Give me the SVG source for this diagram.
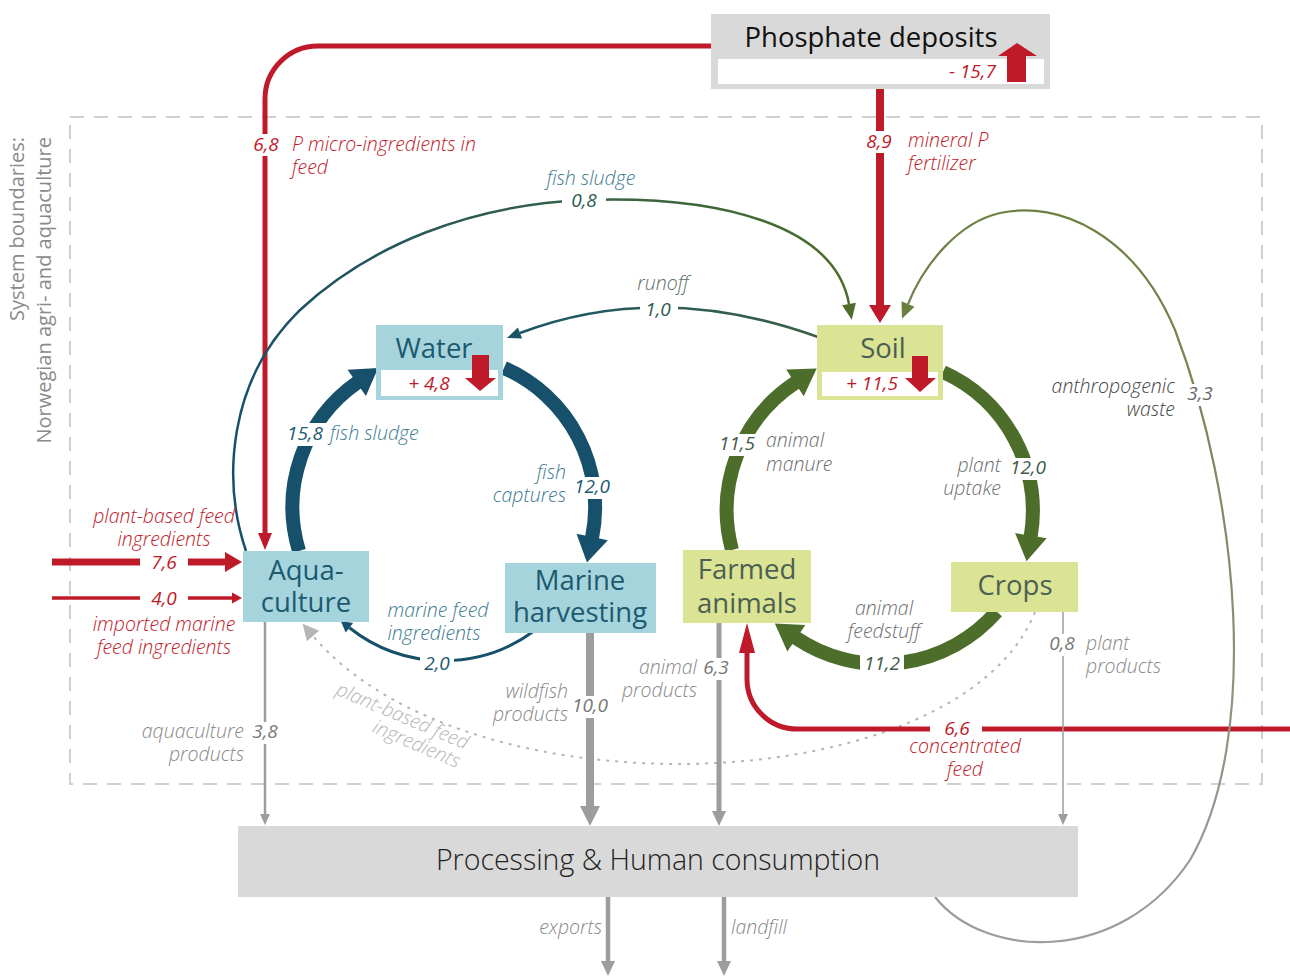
<svg xmlns="http://www.w3.org/2000/svg" width="1290" height="976" viewBox="0 0 1290 976">
<style>
.node{font-family:"Open Sans","Liberation Sans",sans-serif;font-size:27.5px;text-anchor:middle}
.lbl{font-family:"Open Sans","Liberation Sans",sans-serif;font-style:italic;font-weight:300;font-size:19.5px}
.num{font-family:"Open Sans","Liberation Sans",sans-serif;font-style:italic;font-weight:400;font-size:19px}
.inner{font-family:"Open Sans","Liberation Sans",sans-serif;font-style:italic;font-weight:400;font-size:19px}
.mid{text-anchor:middle}
.end{text-anchor:end}
.gap{fill:#fff}
.red{fill:#be1a2a}
.bl{fill:#3d7a8f}
.bln{fill:#1c5a70}
.gr{fill:#6e6e6e}
.grn{fill:#3f5a48}
.dk{fill:#444}
.lg{fill:#888}
.line{fill:none}
.bnd{font-family:"Open Sans","Liberation Sans",sans-serif;font-size:20px;text-anchor:end;fill:#8a8a8a}
</style>
<defs>
<marker id="mRed68" markerUnits="userSpaceOnUse" orient="auto" refX="0" refY="0" overflow="visible"><path d="M0,-7 L17,0 L0,7 Z" fill="#be1a2a"/></marker>
<marker id="mRed89" markerUnits="userSpaceOnUse" orient="auto" refX="0" refY="0" overflow="visible"><path d="M0,-11 L18,0 L0,11 Z" fill="#be1a2a"/></marker>
<marker id="mRed76" markerUnits="userSpaceOnUse" orient="auto" refX="0" refY="0" overflow="visible"><path d="M0,-10 L17,0 L0,10 Z" fill="#be1a2a"/></marker>
<marker id="mRed40" markerUnits="userSpaceOnUse" orient="auto" refX="0" refY="0" overflow="visible"><path d="M0,-5.5 L10,0 L0,5.5 Z" fill="#be1a2a"/></marker>
<marker id="mRedCF" markerUnits="userSpaceOnUse" orient="auto" refX="0" refY="0" overflow="visible"><path d="M0,-8 L30,0 L0,8 Z" fill="#be1a2a"/></marker>
<marker id="mBlueBig" markerUnits="userSpaceOnUse" orient="auto" refX="0" refY="0" overflow="visible"><path d="M-1,-16 L25,0 L-1,16 Z" fill="#17506a"/></marker>
<marker id="mGreenBig" markerUnits="userSpaceOnUse" orient="auto" refX="0" refY="0" overflow="visible"><path d="M-1,-16 L25,0 L-1,16 Z" fill="#4d6e2a"/></marker>
<marker id="mBlueSm" markerUnits="userSpaceOnUse" orient="auto" refX="0" refY="0" overflow="visible"><path d="M0,-6 L11,0 L0,6 Z" fill="#17506a"/></marker>
<marker id="mRunoff" markerUnits="userSpaceOnUse" orient="auto" refX="0" refY="0" overflow="visible"><path d="M0,-6 L14,0 L0,6 Z" fill="#1a5568"/></marker>
<marker id="mGreenSm" markerUnits="userSpaceOnUse" orient="auto" refX="0" refY="0" overflow="visible"><path d="M0,-7 L16,0 L0,7 Z" fill="#4d6e2a"/></marker>
<marker id="mOlive" markerUnits="userSpaceOnUse" orient="auto" refX="0" refY="0" overflow="visible"><path d="M0,-7 L16,0 L0,7 Z" fill="#6b8040"/></marker>
<marker id="mGray" markerUnits="userSpaceOnUse" orient="auto" refX="0" refY="0" overflow="visible"><path d="M0,-5 L11,0 L0,5 Z" fill="#9d9d9d"/></marker>
<marker id="mGrayMid" markerUnits="userSpaceOnUse" orient="auto" refX="0" refY="0" overflow="visible"><path d="M0,-7 L15,0 L0,7 Z" fill="#9d9d9d"/></marker>
<marker id="mGrayBig" markerUnits="userSpaceOnUse" orient="auto" refX="0" refY="0" overflow="visible"><path d="M0,-10 L20,0 L0,10 Z" fill="#9d9d9d"/></marker>
<marker id="mDot" markerUnits="userSpaceOnUse" orient="auto" refX="0" refY="0" overflow="visible"><path d="M0,-8 L16,0 L0,8 Z" fill="#b5b5b5"/></marker>
<linearGradient id="gSludge" gradientUnits="userSpaceOnUse" x1="240" y1="0" x2="850" y2="0"><stop offset="0" stop-color="#17506a"/><stop offset="1" stop-color="#4d6e2a"/></linearGradient>
<linearGradient id="gRunoff" gradientUnits="userSpaceOnUse" x1="506" y1="0" x2="818" y2="0"><stop offset="0" stop-color="#1a5568"/><stop offset="1" stop-color="#3b6146"/></linearGradient>
<linearGradient id="gWaste" gradientUnits="userSpaceOnUse" x1="0" y1="945" x2="0" y2="210"><stop offset="0" stop-color="#9d9d9d"/><stop offset="1" stop-color="#6b8040"/></linearGradient>
</defs>
<rect width="1290" height="976" fill="#fff"/>

<g id="boundary">
<rect x="70" y="117" width="1192" height="667" fill="none" stroke="#d0d0d0" stroke-width="2" stroke-dasharray="14 10"/>
<text transform="translate(24,137) rotate(-90)" class="bnd">System boundaries:</text>
<text transform="translate(51,137) rotate(-90)" class="bnd">Norwegian agri- and aquaculture</text>
</g>

<g id="connectors">
<path class="line" d="M1035 612 C960 800 470 820 313 636" stroke="#b5b5b5" stroke-width="2" stroke-dasharray="3 6" marker-end="url(#mDot)"/>
<path class="line" d="M711 46 L318 46 A53 53 0 0 0 265 99 L265 533" stroke="#be1a2a" stroke-width="5" marker-end="url(#mRed68)"/>
<path class="line" d="M880 89 L880 305" stroke="#be1a2a" stroke-width="8" marker-end="url(#mRed89)"/>
<path class="line" d="M52 562 L225 562" stroke="#be1a2a" stroke-width="7" marker-end="url(#mRed76)"/>
<path class="line" d="M52 598 L232 598" stroke="#be1a2a" stroke-width="3.5" marker-end="url(#mRed40)"/>
<path class="line" d="M1290 729 L797 729 A50 50 0 0 1 747 679 L747 653" stroke="#be1a2a" stroke-width="5" marker-end="url(#mRedCF)"/>
<path class="line" d="M246 551 C222 480 228 380 300 310 C370 245 470 205 584 200 C720 195 835 225 849 304" stroke="url(#gSludge)" stroke-width="2.5" marker-end="url(#mGreenSm)"/>
<path class="line" d="M818 337 Q660 280 520 333" stroke="url(#gRunoff)" stroke-width="2.5" marker-end="url(#mRunoff)"/>
<path class="line" d="M935 897 C985 960 1120 965 1190 860 C1260 740 1240 500 1175 330 C1135 235 1060 200 1000 213 C960 222 925 262 908 304" stroke="url(#gWaste)" stroke-width="2.2" marker-end="url(#mOlive)"/>
<path class="line" d="M299 551 A152 152 0 0 1 357.6 382.3" stroke="#17506a" stroke-width="14" marker-end="url(#mBlueBig)"/>
<path class="line" d="M504 368 A152 152 0 0 1 592 538" stroke="#17506a" stroke-width="14" marker-end="url(#mBlueBig)"/>
<path class="line" d="M534 631 A152 152 0 0 1 349.4 627.8" stroke="#17506a" stroke-width="3" marker-end="url(#mBlueSm)"/>
<path class="line" d="M732 550 A153 153 0 0 1 795.8 382.3" stroke="#4d6e2a" stroke-width="14" marker-end="url(#mGreenBig)"/>
<path class="line" d="M943 372 A153 153 0 0 1 1030.7 536.6" stroke="#4d6e2a" stroke-width="14" marker-end="url(#mGreenBig)"/>
<path class="line" d="M996.7 611.7 A153 153 0 0 1 795.5 637.6" stroke="#4d6e2a" stroke-width="14" marker-end="url(#mGreenBig)"/>
<path class="line" d="M265 622 L265 814" stroke="#9d9d9d" stroke-width="2.5" marker-end="url(#mGray)"/>
<path class="line" d="M590 633 L590 806" stroke="#9d9d9d" stroke-width="8" marker-end="url(#mGrayBig)"/>
<path class="line" d="M719 623 L719 811" stroke="#9d9d9d" stroke-width="5" marker-end="url(#mGrayMid)"/>
<path class="line" d="M1063 612 L1063 814" stroke="#9d9d9d" stroke-width="1.5" marker-end="url(#mGray)"/>
<path class="line" d="M608 897 L608 961" stroke="#9d9d9d" stroke-width="4.5" marker-end="url(#mGrayMid)"/>
<path class="line" d="M724 897 L724 961" stroke="#9d9d9d" stroke-width="4.5" marker-end="url(#mGrayMid)"/>
</g>

<g id="phosphate">
<rect x="711" y="14" width="339" height="75" fill="#d9d9d9"/>
<rect x="718" y="59" width="326" height="25" fill="#fff"/>
<text x="871" y="47" class="node" fill="#111">Phosphate deposits</text>
<text x="996" y="78" class="inner end red">- 15,7</text>
<polygon points="1007,82 1026,82 1026,56 1037,56 1017,43 998,56 1007,56" fill="#be1a2a"/>
</g>

<g id="water">
<rect x="376" y="325" width="127" height="75" fill="#a6d4dd"/>
<rect x="381" y="370" width="117" height="26" fill="#fff"/>
<text x="434" y="358" class="node" fill="#1c5a70">Water</text>
<text x="429" y="390" class="inner mid red">+ 4,8</text>
<polygon points="472,355 489,355 489,378 496,378 480,391 465,378 472,378" fill="#be1a2a"/>
</g>

<g id="soil">
<rect x="817" y="325" width="126" height="75" fill="#dbe394"/>
<rect x="822" y="372" width="116" height="24" fill="#fff"/>
<text x="883" y="358" class="node" fill="#4b5f52">Soil</text>
<text x="872" y="390" class="inner mid red">+ 11,5</text>
<polygon points="912,356 928,356 928,378 936,378 920,392 905,378 912,378" fill="#be1a2a"/>
</g>

<g id="aquaculture">
<rect x="243" y="551" width="126" height="71" fill="#a6d4dd"/>
<text x="306" y="580" class="node" fill="#1c5a70">Aqua-</text>
<text x="306" y="612" class="node" fill="#1c5a70">culture</text>
</g>

<g id="marine">
<rect x="505" y="563" width="151" height="70" fill="#a6d4dd"/>
<text x="580" y="590" class="node" fill="#1c5a70">Marine</text>
<text x="580" y="622" class="node" fill="#1c5a70">harvesting</text>
</g>

<g id="farmed">
<rect x="683" y="550" width="128" height="73" fill="#dbe394"/>
<text x="747" y="579" class="node" fill="#4b5f52">Farmed</text>
<text x="747" y="613" class="node" fill="#4b5f52">animals</text>
</g>

<g id="crops">
<rect x="951" y="562" width="127" height="50" fill="#dbe394"/>
<text x="1015" y="595" class="node" fill="#4b5f52">Crops</text>
</g>

<g id="processing">
<rect x="238" y="826" width="840" height="71" fill="#d9d9d9"/>
<text x="658" y="870" class="node" fill="#222" style="font-size:28.5px;font-weight:300">Processing &amp; Human consumption</text>
</g>

<g id="labels">
<rect class="gap" x="250" y="134" width="32" height="22"/>
<rect class="gap" x="864" y="131" width="30" height="22"/>
<rect class="gap" x="140" y="552" width="48" height="20"/>
<rect class="gap" x="140" y="590" width="48" height="18"/>
<rect class="gap" x="930" y="719" width="52" height="20"/>
<rect class="gap" x="562" y="192" width="44" height="18"/>
<rect class="gap" x="640" y="300" width="38" height="18"/>
<rect class="gap" x="285" y="423" width="42" height="23"/>
<rect class="gap" x="572" y="477" width="42" height="22"/>
<rect class="gap" x="420" y="655" width="34" height="20"/>
<rect class="gap" x="716" y="434" width="42" height="22"/>
<rect class="gap" x="1008" y="458" width="42" height="22"/>
<rect class="gap" x="860" y="652" width="44" height="23"/>
<rect class="gap" x="1186" y="384" width="28" height="22"/>
<rect class="gap" x="252" y="722" width="26" height="22"/>
<rect class="gap" x="570" y="696" width="40" height="22"/>
<rect class="gap" x="703" y="658" width="27" height="22"/>
<rect class="gap" x="1049" y="634" width="26" height="22"/>

<text x="266" y="151" class="num mid red">6,8</text>
<text x="292" y="151" class="lbl red">P micro-ingredients in</text>
<text x="292" y="174" class="lbl red">feed</text>
<text x="879" y="148" class="num mid red">8,9</text>
<text x="908" y="147" class="lbl red">mineral P</text>
<text x="908" y="170" class="lbl red">fertilizer</text>
<text x="164" y="523" class="lbl mid red">plant-based feed</text>
<text x="164" y="546" class="lbl mid red">ingredients</text>
<text x="164" y="569" class="num mid red">7,6</text>
<text x="164" y="605" class="num mid red">4,0</text>
<text x="164" y="631" class="lbl mid red">imported marine</text>
<text x="164" y="654" class="lbl mid red">feed ingredients</text>
<text x="957" y="735" class="num mid red">6,6</text>
<text x="965" y="753" class="lbl mid red">concentrated</text>
<text x="965" y="776" class="lbl mid red">feed</text>

<text x="591" y="185" class="lbl mid bl">fish sludge</text>
<text x="584" y="207" class="num mid" fill="#2d5a50">0,8</text>
<text x="663" y="290" class="lbl mid" fill="#5e6e6e">runoff</text>
<text x="658" y="316" class="num mid" fill="#2d5a50">1,0</text>
<text x="305" y="440" class="num mid bln">15,8</text>
<text x="330" y="440" class="lbl bl">fish sludge</text>
<text x="566" y="479" class="lbl end bl">fish</text>
<text x="566" y="502" class="lbl end bl">captures</text>
<text x="592" y="493" class="num mid bln">12,0</text>
<text x="438" y="617" class="lbl mid bl">marine feed</text>
<text x="434" y="640" class="lbl mid bl">ingredients</text>
<text x="437" y="670" class="num mid bln">2,0</text>

<text x="737" y="450" class="num mid grn">11,5</text>
<text x="766" y="447" class="lbl gr">animal</text>
<text x="766" y="471" class="lbl gr">manure</text>
<text x="1001" y="472" class="lbl end gr">plant</text>
<text x="1001" y="495" class="lbl end gr">uptake</text>
<text x="1028" y="474" class="num mid grn">12,0</text>
<text x="884" y="615" class="lbl mid gr">animal</text>
<text x="884" y="638" class="lbl mid gr">feedstuff</text>
<text x="882" y="670" class="num mid grn">11,2</text>

<text x="1175" y="393" class="lbl end dk">anthropogenic</text>
<text x="1175" y="416" class="lbl end dk">waste</text>
<text x="1200" y="400" class="num mid" fill="#666">3,3</text>

<text x="244" y="738" class="lbl end lg">aquaculture</text>
<text x="244" y="761" class="lbl end lg">products</text>
<text x="265" y="738" class="num mid" fill="#777">3,8</text>
<text x="568" y="698" class="lbl end lg">wildfish</text>
<text x="568" y="721" class="lbl end lg">products</text>
<text x="590" y="712" class="num mid" fill="#777">10,0</text>
<text x="697" y="674" class="lbl end lg">animal</text>
<text x="697" y="697" class="lbl end lg">products</text>
<text x="716" y="674" class="num mid" fill="#777">6,3</text>
<text x="1062" y="650" class="num mid" fill="#777">0,8</text>
<text x="1086" y="650" class="lbl lg">plant</text>
<text x="1086" y="673" class="lbl lg">products</text>
<text x="602" y="934" class="lbl end lg">exports</text>
<text x="731" y="934" class="lbl lg">landfill</text>

<text transform="translate(400,722) rotate(23)" class="lbl mid" fill="#b5b5b5">plant-based feed</text>
<text transform="translate(414,750) rotate(23)" class="lbl mid" fill="#b5b5b5">ingredients</text>
</g>
</svg>
